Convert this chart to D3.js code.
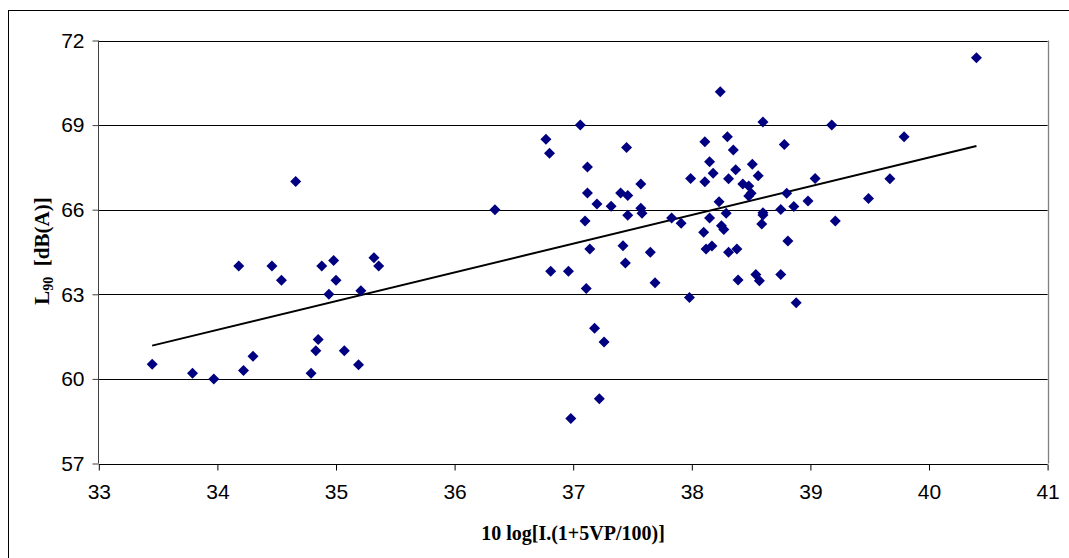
<!DOCTYPE html>
<html><head><meta charset="utf-8">
<script src="https://cdn.jsdelivr.net/npm/d3@7"></script>
<style>html,body{margin:0;padding:0;background:#fff;}svg{display:block;}</style>
</head><body>
<svg id="chart" width="1069" height="558"></svg>
<script>
const xValues = [
 33.45,33.79,33.97,34.18,34.22,34.30,34.46,34.54,34.66,34.79,34.83,34.85,34.88,34.94,34.98,35.00,35.07,35.19,35.21,35.32,35.36,36.34,
 36.77,36.80,36.81,36.96,36.98,37.06,37.10,37.11,37.12,37.12,37.14,37.18,37.20,37.22,37.26,37.32,37.40,37.42,37.44,37.45,37.46,37.46,37.57,37.57,37.58,37.65,37.69,37.83,37.91,37.98,37.99,38.10,
 38.11,38.11,38.12,38.15,38.15,38.17,38.18,38.23,38.24,38.25,38.27,38.29,38.30,38.31,38.31,38.35,38.37,38.38,38.39,38.43,38.48,38.48,38.50,38.51,38.54,38.56,38.57,38.59,38.60,38.60,38.60,38.75,38.75,38.78,38.80,38.81,38.86,38.88,38.98,39.04,39.18,39.21,39.49,39.67,39.79,40.40
];
const yValues = [
 60.52,60.2,60.0,64.0,60.3,60.8,64.0,63.5,67.0,60.2,61.0,61.4,64.0,63.0,64.2,63.5,61.0,60.5,63.13,64.3,64.0,66.0,
 68.5,68.0,63.82,63.82,58.6,69.0,65.6,63.21,67.51,66.59,64.61,61.8,66.2,59.3,61.31,66.12,66.59,64.72,64.11,68.21,66.50,65.80,66.91,66.05,65.87,64.49,63.41,65.71,65.52,62.89,67.11,65.2,
 68.41,66.99,64.61,67.70,65.71,64.71,67.29,66.28,70.18,65.43,65.30,65.87,68.59,67.10,64.49,68.12,67.42,64.61,63.51,66.91,66.84,66.49,66.58,67.61,63.70,67.20,63.48,65.49,69.11,65.89,65.81,66.01,63.70,68.31,66.58,64.89,66.11,62.70,66.31,67.11,69.0,65.60,66.40,67.10,68.59,71.39
];
const trendX = [33.45, 40.40];
const trendY = [61.18, 68.26];
const xTicks = [33,34,35,36,37,38,39,40,41];
const yTicks = [57,60,63,66,69,72];
const xTitle = "10 log[I.(1+5VP/100)]";

const svg = d3.select("#chart");
const pL = 98.8, pR = 1047.6, pT = 40.5, pB = 463.5;
const x = d3.scaleLinear().domain([33,41]).range([pL,pR]);
const y = d3.scaleLinear().domain([57,72]).range([pB,pT]);

// outer border
svg.append("rect").attr("x",8.5).attr("y",10.5).attr("width",1100).attr("height",600)
  .attr("fill","none").attr("stroke","#000").attr("stroke-width",1);

// plot area right border
svg.append("line").attr("x1",Math.round(pR)+0.5).attr("x2",Math.round(pR)+0.5)
  .attr("y1",pT).attr("y2",pB).attr("stroke","#808080").attr("stroke-width",1.3);

// gridlines
svg.append("g").selectAll("line").data(yTicks.filter(d=>d>57)).join("line")
  .attr("x1",pL).attr("x2",pR)
  .attr("y1",d=>Math.round(y(d))+0.5).attr("y2",d=>Math.round(y(d))+0.5)
  .attr("stroke","#000").attr("stroke-width",1);

// y axis
const yAxis = d3.axisLeft(y).tickValues(yTicks).tickSize(6).tickPadding(8).tickFormat(d3.format("d"));
const gy = svg.append("g").attr("transform",`translate(${Math.round(pL)-0.5},0)`).call(yAxis);
gy.select(".domain").attr("d",`M0,${pT}V${pB}`).attr("stroke","#404040");
gy.selectAll(".tick line").attr("stroke","#404040");
gy.selectAll("text").attr("font-family","'Liberation Sans',Arial,sans-serif").attr("font-size",21).attr("fill","#000");

// x axis
const xAxis = d3.axisBottom(x).tickValues(xTicks).tickSize(6).tickPadding(14).tickFormat(d3.format("d"));
const gx = svg.append("g").attr("transform",`translate(0,${Math.round(pB)+0.5})`).call(xAxis);
gx.select(".domain").attr("d",`M${pL},0H${pR}`).attr("stroke","#000");
gx.selectAll(".tick line").attr("stroke","#000");
gx.selectAll("text").attr("font-family","'Liberation Sans',Arial,sans-serif").attr("font-size",21).attr("fill","#000");

// trend line
const pts = trendX.map((v,i)=>[v,trendY[i]]);
svg.append("path").datum(pts)
  .attr("d",d3.line().x(d=>x(d[0])).y(d=>y(d[1])))
  .attr("stroke","#000").attr("stroke-width",2).attr("fill","none");

// points
const data = xValues.map((v,i)=>({x:v,y:yValues[i]}));
const s = 5.5;
svg.append("g").selectAll("path").data(data).join("path")
  .attr("transform",d=>`translate(${x(d.x)},${y(d.y)})`)
  .attr("d",`M0,${-s}L${s},0L0,${s}L${-s},0Z`)
  .attr("fill","#000080");

// x title
svg.append("text").attr("x",573).attr("y",540).attr("text-anchor","middle")
  .attr("font-family","'Liberation Serif','Times New Roman',serif").attr("font-weight","bold")
  .attr("font-size",20).text(xTitle);

// y title
const yt = svg.append("text").attr("transform","translate(49,251) rotate(-90)").attr("text-anchor","middle")
  .attr("font-family","'Liberation Serif','Times New Roman',serif").attr("font-weight","bold")
  .attr("font-size",21);
yt.append("tspan").text("L");
yt.append("tspan").attr("font-size",14).attr("dy",4).text("90");
yt.append("tspan").attr("dy",-4).text("\u00a0 [dB(A)]");
</script>
</body></html>
